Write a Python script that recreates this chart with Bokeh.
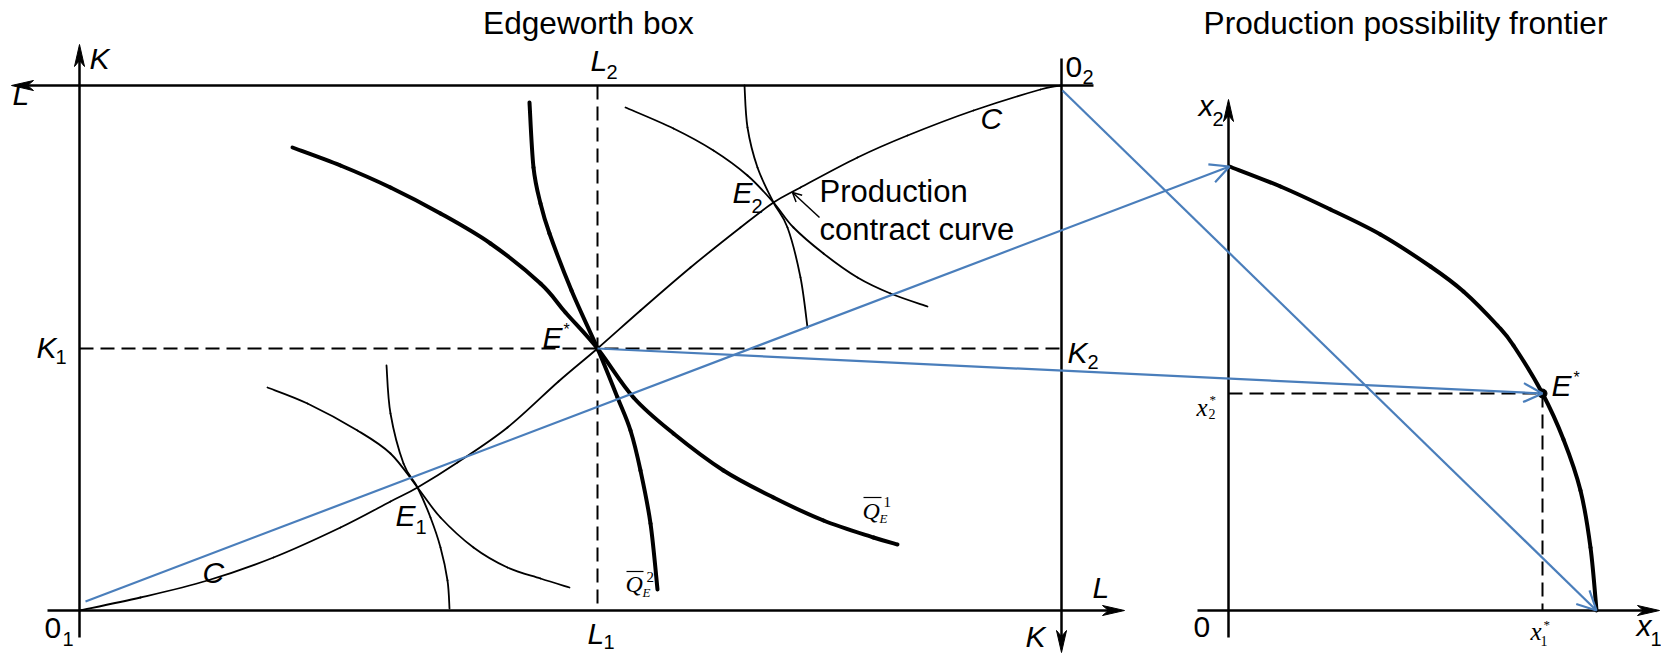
import numpy as np
from bokeh.plotting import figure
from bokeh.models import Range1d, Arrow, OpenHead
from bokeh.core.properties import value
from bokeh.embed import file_html
from bokeh.resources import INLINE

# ---------------- values (reference pixels, y grows downward) -------------
# Edgeworth box
E_star = [597, 348]            # tangency point E*
box_left, box_right = 79, 1061  # 0_1 axis, 0_2 axis
box_bottom, box_top = 610, 85

contract_x = [79, 140, 207, 273, 340, 390, 417, 457, 507, 558, 597, 640, 690, 740, 773, 800, 857, 907, 973, 1040, 1061]
contract_y = [610, 597, 580, 557, 527, 501, 487, 462, 427, 381, 348, 310, 267, 227, 202, 187, 157, 135, 110, 89, 85]

q1_x = [292, 340, 390, 440, 490, 540, 565, 597, 633, 673, 723, 773, 823, 873, 897]
q1_y = [147, 165, 187, 213, 243, 283, 312, 348, 397, 433, 470, 497, 520, 537, 544]
q2_x = [529, 533, 540, 549, 571, 597, 617, 630, 640, 650, 657]
q2_y = [102, 167, 203, 233, 290, 348, 397, 430, 470, 523, 589]

iso_a_x = [267, 307, 357, 390, 417, 440, 473, 507, 540, 569]
iso_a_y = [387, 403, 430, 453, 487, 517, 547, 567, 578, 587]
iso_b_x = [386, 390, 403, 417, 430, 440, 447, 449]
iso_b_y = [365, 413, 463, 487, 517, 547, 580, 608]
iso_c_x = [625, 673, 713, 747, 773, 793, 823, 857, 890, 927]
iso_c_y = [107, 128, 150, 175, 202, 227, 253, 277, 293, 306]
iso_d_x = [744, 747, 757, 773, 787, 800, 807]
iso_d_y = [85, 127, 167, 202, 227, 277, 327]

# Production possibility frontier
ppf_origin = [1228, 610]
ppf_x = [1229, 1280, 1330, 1380, 1430, 1463, 1497, 1513, 1542, 1563, 1580, 1590, 1596]
ppf_y = [166, 186, 209, 234, 266, 291, 325, 345, 393, 439, 490, 547, 610]
ppf_E = [1542, 393]

# blue mapping arrows (start points; ends are PPF points)
blue_x0 = [85, E_star[0], 1062]
blue_y0 = [601, E_star[1], 90]
blue_x1 = [ppf_x[0], ppf_E[0], ppf_x[-1]]
blue_y1 = [ppf_y[0], ppf_E[1], ppf_y[-1]]

# axes with arrow heads: start -> tip
axis_x0 = [79, 1093, 1061, 47, 1228, 1197]
axis_y0 = [637, 85, 58, 610, 637, 610]
axis_x1 = [79, 11, 1061, 1124, 1228, 1659]
axis_y1 = [44, 85, 652, 610, 99, 610]

# ---------------- figure -------------
W, H = 1661, 654
p = figure(width=W, height=H, x_range=Range1d(0, W), y_range=Range1d(H, 0),
           output_backend="svg", toolbar_location=None,
           x_axis_type=None, y_axis_type=None, min_border=0)
p.outline_line_color = None
p.background_fill_color = "white"
p.border_fill_color = "white"

BLACK = "black"
BLUE = "#4a7ebb"


def smooth(xs, ys, width, color=BLACK):
    P = np.column_stack([xs, ys]).astype(float)
    n = len(P)
    Pm = np.vstack([P[0], P, P[-1]])
    a, b, c, d = Pm[0:n - 1], Pm[1:n], Pm[2:n + 1], Pm[3:n + 2]
    cp1 = b + (c - a) / 6.0
    cp2 = c - (d - b) / 6.0
    p.bezier(x0=b[:, 0], y0=b[:, 1], x1=c[:, 0], y1=c[:, 1],
             cx0=cp1[:, 0], cy0=cp1[:, 1], cx1=cp2[:, 0], cy1=cp2[:, 1],
             line_color=color, line_width=width, line_cap="round")


# dashed guide lines
dash = "14 7"
p.segment(x0=[E_star[0], box_left, ppf_origin[0], ppf_E[0]],
          y0=[box_top, E_star[1], ppf_E[1], ppf_E[1]],
          x1=[E_star[0], box_right, ppf_E[0], ppf_E[0]],
          y1=[box_bottom, E_star[1], ppf_E[1], ppf_origin[1]],
          line_color=BLACK, line_width=2, line_dash=dash)

# axes + stealth heads
HL, HW, NOTCH = 22.0, 5.0, 6.0
ax0 = np.array(axis_x0, float); ay0 = np.array(axis_y0, float)
ax1 = np.array(axis_x1, float); ay1 = np.array(axis_y1, float)
dx, dy = ax1 - ax0, ay1 - ay0
ln = np.hypot(dx, dy)
ux, uy = dx / ln, dy / ln
nx, ny = -uy, ux
p.segment(x0=ax0, y0=ay0, x1=ax1 - ux * (HL - NOTCH), y1=ay1 - uy * (HL - NOTCH),
          line_color=BLACK, line_width=2.5)
hx = [[ax1[i], ax1[i] - ux[i] * HL + nx[i] * HW, ax1[i] - ux[i] * (HL - NOTCH), ax1[i] - ux[i] * HL - nx[i] * HW]
      for i in range(len(ax1))]
hy = [[ay1[i], ay1[i] - uy[i] * HL + ny[i] * HW, ay1[i] - uy[i] * (HL - NOTCH), ay1[i] - uy[i] * HL - ny[i] * HW]
      for i in range(len(ay1))]
p.patches(xs=hx, ys=hy, fill_color=BLACK, line_color=BLACK, line_width=1)

# curves
smooth(contract_x, contract_y, 1.8)
smooth(iso_a_x, iso_a_y, 1.8)
smooth(iso_b_x, iso_b_y, 1.8)
smooth(iso_c_x, iso_c_y, 1.8)
smooth(iso_d_x, iso_d_y, 1.8)
smooth(q1_x, q1_y, 4)
smooth(q2_x, q2_y, 4)
smooth(ppf_x, ppf_y, 4)

p.scatter(x=[ppf_E[0]], y=[ppf_E[1]], size=9, color=BLACK)

# blue arrows
for i in range(3):
    p.add_layout(Arrow(end=OpenHead(size=19, line_color=BLUE, line_width=2.2),
                       x_start=blue_x0[i], y_start=blue_y0[i], x_end=blue_x1[i], y_end=blue_y1[i],
                       line_color=BLUE, line_width=2.2))

# pointer arrow to contract curve
p.add_layout(Arrow(end=OpenHead(size=9, line_color=BLACK, line_width=1.5),
                   x_start=819, y_start=217, x_end=792, y_end=192,
                   line_color=BLACK, line_width=1.5))

# Q overlines
p.segment(x0=[626, 863], y0=[571, 497], x1=[643, 881], y1=[571, 497], line_color=BLACK, line_width=1.2)

# ---------------- texts -------------
SANS = value("Liberation Sans")
SERIF = value("Liberation Serif")
BASE_SHIFT = 0.347   # the renderer centres 'alphabetic' text on y; move it back to the baseline


def txt(texts, xs, ys, size, font=SANS, style="normal", align="left"):
    ys = [y - BASE_SHIFT * size for y in ys]
    p.text(x=xs, y=ys, text=texts, text_font=font, text_font_size=value(f"{size}px"),
           text_font_style=style, text_align=align, text_baseline="alphabetic", text_color=BLACK)


# italic letters
txt(["K", "L", "L", "C", "E", "E", "K", "K", "E", "C", "L", "K", "L", "x", "E", "x"],
    [89, 12, 590, 980, 732, 542, 36, 1067, 395, 202, 587, 1025, 1092, 1198, 1551, 1636],
    [68, 104, 70, 128, 202, 347, 357, 362, 525, 582, 643, 646, 597, 115, 395, 635],
    30, style="italic")
# subscripts
txt(["2", "2", "1", "2", "1", "1", "2", "1", "2", "1"],
    [606, 751, 55, 1087, 415, 603, 1212, 1650, 1082, 62],
    [78, 212, 363, 368, 533, 648, 125, 645, 83, 645],
    20)
# superscript stars
txt(["*", "*"], [563, 1573], [335, 383], 16)
# origins
txt(["0", "0", "0"], [1065, 44, 1193], [77, 638, 637], 30)
# titles
txt(["Edgeworth box", "Production possibility frontier"], [588, 1405], [33, 33], 31.6, align="center")
txt(["Production", "contract curve"], [819, 819], [202, 240], 31)

# serif math labels
txt(["Q", "Q"], [625, 862], [592, 519], 24, font=SERIF, style="italic")
txt(["2", "1"], [646, 883], [582, 507], 15, font=SERIF)
txt(["E", "E"], [642, 879], [597, 523], 13, font=SERIF, style="italic")
txt(["x", "x"], [1196, 1530], [416, 640], 25, font=SERIF, style="italic")
txt(["*", "*"], [1209, 1543], [404, 629], 13, font=SERIF)
txt(["2", "1"], [1208, 1540], [418, 645], 14, font=SERIF)

open("out.html", "w").write(file_html(p, INLINE))
